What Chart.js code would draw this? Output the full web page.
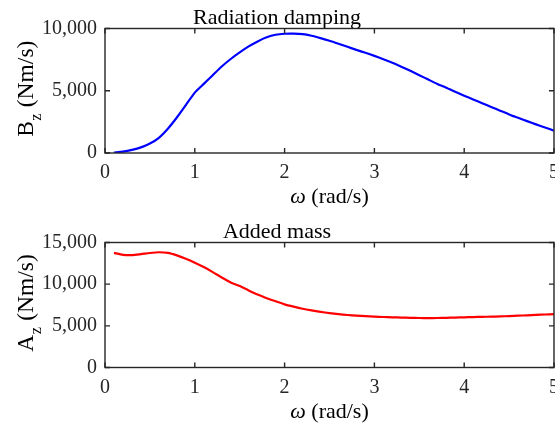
<!DOCTYPE html>
<html>
<head>
<meta charset="utf-8">
<script src="https://cdn.jsdelivr.net/npm/chart.js@4.4.1/dist/chart.umd.min.js"></script>
<style>
html,body{margin:0;padding:0;background:#fff;overflow:hidden;width:555px;height:426px;}
canvas{position:absolute;left:0;}
#c1{top:0;}
#c2{top:214px;}
</style>
</head>
<body>
<canvas id="c1" width="580" height="214"></canvas>
<canvas id="c2" width="580" height="212"></canvas>
<script>
// ---- data ----
const omega = [0.1,0.2,0.3,0.4,0.5,0.6,0.7,0.8,0.9,1.0,
               1.1,1.2,1.3,1.4,1.5,1.6,1.7,1.8,1.9,2.0,
               2.1,2.2,2.3,2.4,2.5,2.6,2.7,2.8,2.9,3.0,
               3.1,3.2,3.3,3.4,3.5,3.6,3.7,3.8,3.9,4.0,
               4.1,4.2,4.3,4.4,4.5,4.6,4.7,4.8,4.9,5.0];
const dampingBz = [30,110,250,450,760,1220,1950,2850,3850,4850,
                   5550,6250,6950,7550,8080,8560,8960,9290,9500,9580,
                   9590,9550,9420,9230,9020,8780,8530,8280,8050,7800,
                   7530,7250,6930,6600,6250,5900,5550,5250,4920,4600,
                   4300,4000,3700,3400,3100,2830,2560,2300,2050,1800];
const addedMassAz = [13750,13520,13480,13600,13740,13830,13750,13450,13050,12580,
                     12050,11450,10800,10200,9780,9250,8750,8320,7950,7580,
                     7300,7050,6850,6680,6530,6400,6300,6220,6160,6110,
                     6060,6020,5990,5960,5940,5930,5940,5960,5990,6020,
                     6050,6080,6100,6130,6170,6220,6260,6310,6360,6400];
const xTicks = [0,1,2,3,4,5];
const bzTicks = [0,5000,10000];
const azTicks = [0,5000,10000,15000];
const titles = ['Radiation damping','Added mass'];
const yLabelMain = ['B','A'];
const yLabelSub = 'z';
const yLabelUnit = ' (Nm/s)';
const xLabelSym = 'ω';
const xLabelUnit = ' (rad/s)';

const FONT = '"Liberation Serif","Times New Roman",serif';
const AXC = '#262626';

function framePlugin(mainLetter){
  return {
    id:'frame',
    afterDatasetsDraw(chart){
      const ctx = chart.ctx, a = chart.chartArea;
      const xs = chart.scales.x, ys = chart.scales.y;
      ctx.save();
      ctx.strokeStyle = AXC; ctx.lineWidth = 1.4;
      ctx.strokeRect(a.left, a.top, a.right - a.left, a.bottom - a.top);
      ctx.beginPath();
      const tl = 5;
      xs.ticks.forEach(t=>{
        const px = xs.getPixelForValue(t.value);
        ctx.moveTo(px, a.bottom); ctx.lineTo(px, a.bottom - tl);
        ctx.moveTo(px, a.top); ctx.lineTo(px, a.top + tl);
      });
      ys.ticks.forEach(t=>{
        const py = ys.getPixelForValue(t.value);
        ctx.moveTo(a.left, py); ctx.lineTo(a.left + tl, py);
        ctx.moveTo(a.right, py); ctx.lineTo(a.right - tl, py);
      });
      ctx.stroke();
      // x label
      ctx.fillStyle = '#000';
      ctx.textBaseline = 'alphabetic';
      const fMain = '22px ' + FONT, fIt = 'italic 22px ' + FONT;
      ctx.font = fIt; const w1 = ctx.measureText(xLabelSym).width;
      ctx.font = fMain; const w2 = ctx.measureText(xLabelUnit).width;
      const cx = (a.left + a.right) / 2;
      let x0 = cx - (w1 + w2) / 2;
      const by = a.bottom + 50;
      ctx.textAlign = 'left';
      ctx.font = fIt; ctx.fillText(xLabelSym, x0, by);
      ctx.font = fMain; ctx.fillText(xLabelUnit, x0 + w1, by);
      // y label (rotated, with subscript)
      const yMain = '23.5px ' + FONT, ySub = '16px ' + FONT;
      ctx.font = yMain; const m1 = ctx.measureText(mainLetter).width;
      ctx.font = ySub; const m2 = ctx.measureText(yLabelSub).width + 1;
      ctx.font = yMain; const m3 = ctx.measureText(yLabelUnit).width;
      const tot = m1 + m2 + m3;
      ctx.translate(33, (a.top + a.bottom) / 2 - 2);
      ctx.rotate(-Math.PI / 2);
      let s = -tot / 2;
      ctx.font = yMain; ctx.fillText(mainLetter, s, 0); s += m1;
      ctx.font = ySub; ctx.fillText(yLabelSub, s + 0.5, 8); s += m2;
      ctx.font = yMain; ctx.fillText(yLabelUnit, s, 0);
      ctx.restore();
    }
  };
}

function makeChart(id, title, values, color, yMax, yTicks, xHeight, letter){
  return new Chart(document.getElementById(id), {
    type:'line',
    data:{datasets:[{
      data: omega.map((w,i)=>({x:w, y:values[i]})),
      borderColor: color, borderWidth: 2.2, pointRadius: 0, tension: 0.2, fill:false
    }]},
    options:{
      responsive:false, animation:false, devicePixelRatio:1,
      layout:{padding:{left:0, right:26, top:0, bottom:0}},
      plugins:{
        legend:{display:false}, tooltip:{enabled:false},
        title:{display:true, text:title, color:'#000',
               font:{family:FONT, size:22, weight:'normal', lineHeight:1},
               padding:{top:7, bottom:-0.5}}
      },
      scales:{
        x:{type:'linear', min:0, max:5,
           afterBuildTicks(sc){ sc.ticks = xTicks.map(v=>({value:v})); },
           grid:{display:false, drawTicks:false}, border:{display:false},
           ticks:{color:AXC, padding:8, maxRotation:0, font:{family:FONT, size:20}},
           afterFit(sc){ sc.height = xHeight; }},
        y:{type:'linear', min:0, max:yMax,
           afterBuildTicks(sc){ sc.ticks = yTicks.map(v=>({value:v})); },
           grid:{display:false, drawTicks:false}, border:{display:false},
           ticks:{color:AXC, padding:8, font:{family:FONT, size:20}},
           afterFit(sc){ sc.width = 105; }}
      }
    },
    plugins:[framePlugin(letter)]
  });
}

makeChart('c1', titles[0], dampingBz, '#0000ff', 10000, bzTicks, 61, yLabelMain[0]);
makeChart('c2', titles[1], addedMassAz, '#ff0000', 15000, azTicks, 58.5, yLabelMain[1]);
</script>
</body>
</html>
